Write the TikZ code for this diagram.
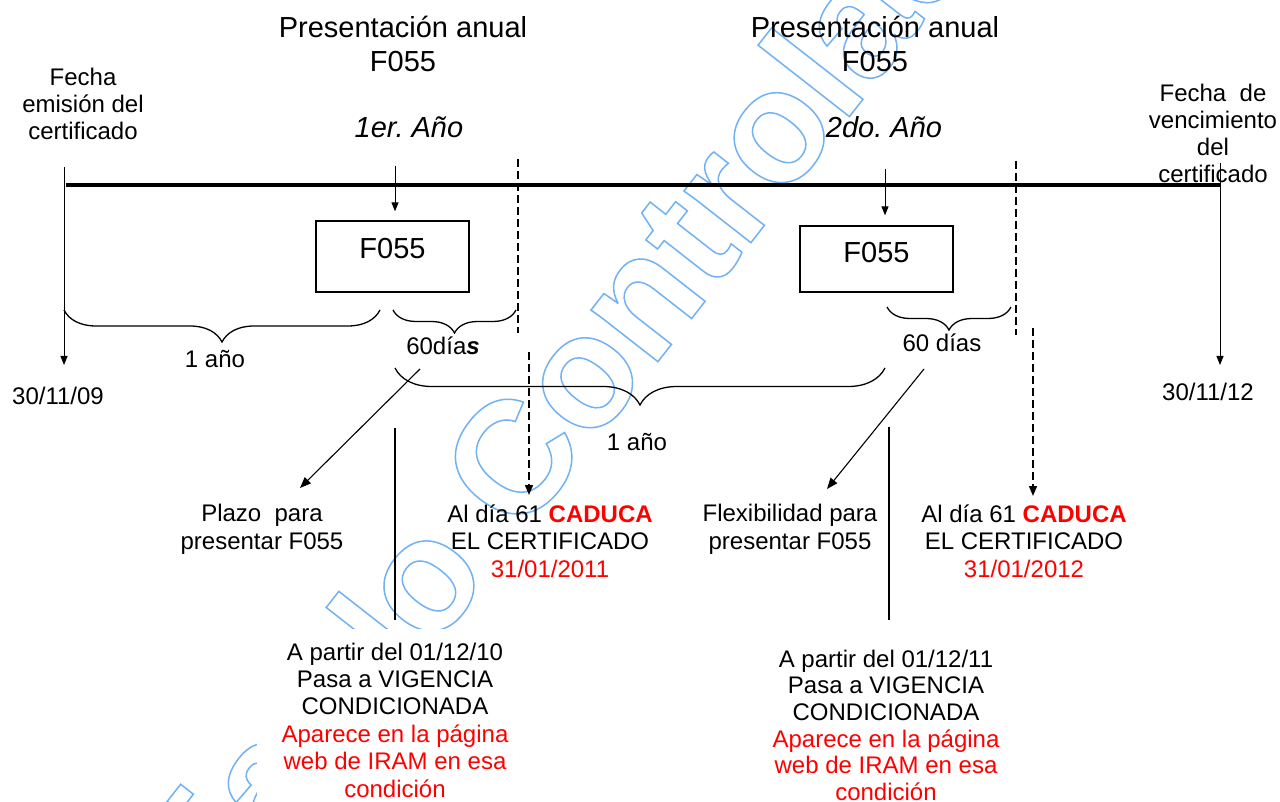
\documentclass[tikz,border=0pt]{standalone}
\usepackage{fontspec}
\setmainfont{Liberation Sans}
\usetikzlibrary{arrows.meta,decorations.pathreplacing}
\definecolor{wmblue}{RGB}{112,178,244}
\definecolor{cred}{RGB}{255,0,0}
\frenchspacing
\begin{document}
\begin{tikzpicture}[x=1pt,y=-1pt,
  txt/.style={font=\fontsize{24}{27.4}\selectfont, align=center, inner sep=0pt, anchor=base},
  ttl/.style={font=\fontsize{29}{34}\selectfont, align=center, inner sep=0pt, anchor=base},
  thinarrow/.style={line width=0.9pt, -{Triangle[length=9pt,width=7pt]}},
  diagarrow/.style={line width=1.1pt, -{Triangle[length=11pt,width=8.5pt]}},
  dashline/.style={line width=1.5pt, dash pattern=on 8pt off 4pt},
  dasharrow/.style={line width=1.5pt, dash pattern=on 8pt off 4pt, -{Triangle[length=10pt,width=8pt]}},
  bracestyle/.style={line width=1.3pt, decorate},
  fbox/.style={draw, line width=1.3pt, minimum width=153pt, inner sep=0pt,
    font=\fontsize{29}{34}\selectfont, anchor=base}
]
\useasboundingbox (0,0) rectangle (1280,802);
\fill[white] (0,0) rectangle (1280,802);

% watermark
\node[font=\fontsize{160}{160}\selectfont\bfseries, text=wmblue, rotate=52,
  anchor=base west, inner sep=0pt] (wm) at (60,1127)
  {\special{pdf:literal direct 1 Tr 1.5 w}Copia No Controlada\special{pdf:literal direct 0 Tr}};

% main timeline
\coordinate (tl) at (66,185);
\coordinate (tr) at (1220,185);
\draw[line width=4pt] (tl) -- (tr);

% left / right vertical arrows
\coordinate (ls) at (64,167);
\coordinate (le) at (64,365);
\draw[thinarrow] (ls) -- (le);
\coordinate (rs) at (1220,163);
\coordinate (re) at (1220,365);
\draw[thinarrow] (rs) -- (re);

% boxes
\node[fbox, text height=38pt, text depth=33pt] (box1) at (392.5,259) {F055};
\node[fbox, text height=37pt, text depth=29pt] (box2) at (876.5,263) {F055};

\coordinate (a1) at (395,166);
\draw[thinarrow, shorten >=9pt] (a1) -- (a1 |- box1.north);
\coordinate (a2) at (885,169);
\draw[thinarrow, shorten >=10pt] (a2) -- (a2 |- box2.north);

% dashed lines
\coordinate (d1s) at (518,159);
\coordinate (d1e) at (518,333);
\draw[dashline] (d1s) -- (d1e);
\coordinate (d2s) at (1016,161);
\coordinate (d2e) at (1016,335);
\draw[dashline] (d2s) -- (d2e);

% braces
\coordinate (b1a) at (64,310);
\coordinate (b1b) at (380,310);
\draw[bracestyle, decoration={brace,mirror,amplitude=32pt}] (b1a) -- (b1b);
\coordinate (b2a) at (393,310);
\coordinate (b2b) at (516,310);
\draw[bracestyle, decoration={brace,mirror,amplitude=23pt}] (b2a) -- (b2b);
\coordinate (b3a) at (395,368);
\coordinate (b3b) at (885,368);
\draw[bracestyle, decoration={brace,mirror,amplitude=37pt}] (b3a) -- (b3b);
\coordinate (b4a) at (887,307);
\coordinate (b4b) at (1011,307);
\draw[bracestyle, decoration={brace,mirror,amplitude=23pt}] (b4a) -- (b4b);

% dashed arrows
\coordinate (da1s) at (529,352);
\coordinate (da1e) at (529,495);
\draw[dasharrow] (da1s) -- (da1e);
\coordinate (da2s) at (1033,328);
\coordinate (da2e) at (1033,496);
\draw[dasharrow] (da2s) -- (da2e);

% diagonal arrows
\coordinate (p1s) at (420,369);
\coordinate (p1e) at (300,488);
\draw[diagarrow] (p1s) -- (p1e);
\coordinate (p2s) at (924,369);
\coordinate (p2e) at (827,489);
\draw[diagarrow] (p2s) -- (p2e);

% vertical separators
\coordinate (v1s) at (395,428);
\coordinate (v1e) at (395,620);
\draw[line width=1.5pt] (v1s) -- (v1e);
\coordinate (v2s) at (889,427);
\coordinate (v2e) at (889,620);
\draw[line width=1.5pt] (v2s) -- (v2e);

% texts (anchor base = baseline of the last line)
\node[ttl] (t1) at (403,72) {Presentación anual\\F055};
\node[ttl] (t2) at (875,72) {Presentación anual\\F055};
\node[ttl, font=\fontsize{29}{34}\selectfont\itshape] (y1) at (409,138) {1er. Año};
\node[ttl, font=\fontsize{29}{34}\selectfont\itshape] (y2) at (884,138) {2do. Año};

\node[txt, font=\fontsize{24}{27}\selectfont] (fe) at (83,140) {Fecha\\emisión del\\certificado};
\node[txt, font=\fontsize{24}{27}\selectfont] (fv) at (1213,183) {Fecha~ de\\vencimiento\\del\\certificado};

\node[txt] (d1) at (58,404) {30/11/09};
\node[txt] (d2) at (1208,400) {30/11/12};

\node[txt] (u1) at (215,367) {1 año};
\node[txt] (s1) at (443,355) {60día{\bfseries\itshape s}};
\node[txt] (u2) at (637,450) {1 año};
\node[txt] (s2) at (942,352) {60 días};

\node[txt] (pl) at (262,549) {Plazo~ para\\presentar F055};
\node[txt] (fl) at (790,549) {Flexibilidad para\\presentar F055};
\node[txt] (c1) at (550,577) {Al día 61 {\bfseries\color{cred}CADUCA}\\EL CERTIFICADO\\{\color{cred}31/01/2011}};
\node[txt] (c2) at (1024,577) {Al día 61 {\bfseries\color{cred}CADUCA}\\EL CERTIFICADO\\{\color{cred}31/01/2012}};

\node[txt, fill=white, inner xsep=25pt, inner ysep=14pt] (vc1) at (395,797)
  {A partir del 01/12/10\\Pasa a VIGENCIA\\CONDICIONADA\\{\color{cred}Aparece en la página}\\{\color{cred}web de IRAM en esa}\\{\color{cred}condición}};
\node[txt, font=\fontsize{24}{26.7}\selectfont] (vc2) at (886,800.5)
  {A partir del 01/12/11\\Pasa a VIGENCIA\\CONDICIONADA\\{\color{cred}Aparece en la página}\\{\color{cred}web de IRAM en esa}\\{\color{cred}condición}};
\end{tikzpicture}
\end{document}
